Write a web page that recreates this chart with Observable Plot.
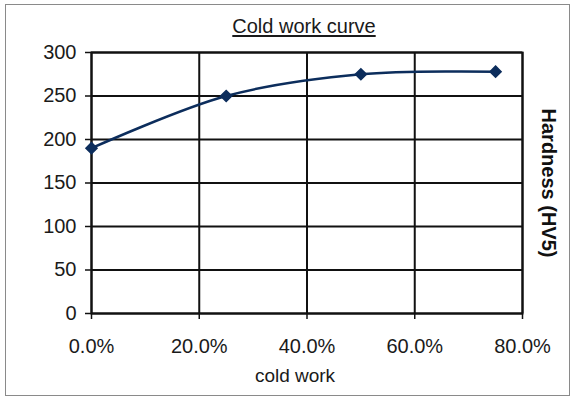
<!DOCTYPE html>
<html>
<head>
<meta charset="utf-8">
<script src="https://cdn.jsdelivr.net/npm/d3@7"></script>
<script src="https://cdn.jsdelivr.net/npm/@observablehq/plot@0.6"></script>
<style>
  body { margin: 0; background: #fff; }
  #wrap { position: relative; width: 576px; height: 400px; overflow: hidden; background: #fff; font-family: "Liberation Sans", Arial, sans-serif; }
  #border { position: absolute; left: 5px; top: 4px; width: 565px; height: 392px; border: 1.5px solid #8a8a8a; box-sizing: border-box; }
  #title { position: absolute; left: 0; width: 608px; top: 16px; text-align: center; font-size: 20px; line-height: 20px; color: #1a1a1a; text-decoration: underline; text-underline-offset: 2px; }
  #xlabel { position: absolute; left: 0; width: 590px; top: 366px; text-align: center; font-size: 19px; line-height: 19px; color: #1a1a1a; }
  #chart { position: absolute; left: 0; top: 0; }
</style>
</head>
<body>
<div id="wrap">
  <div id="border"></div>
  <div id="chart"></div>
  <div id="title"></div>
  <div id="xlabel"></div>
</div>
<script>
const titleText = "Cold work curve";
const xLabelText = "cold work";
const yLabelText = "Hardness (HV5)";
const coldWork = [0, 0.25, 0.50, 0.75];
const hardness = [190, 250, 275, 278];
const xTicks = [0, 0.2, 0.4, 0.6, 0.8];
const yTicks = [0, 50, 100, 150, 200, 250, 300];

const data = coldWork.map((x, i) => ({ x, y: hardness[i] }));
const fmt = d3.format(".1%");
const font = "'Liberation Sans', Arial, sans-serif";

document.getElementById("title").textContent = titleText;
document.getElementById("xlabel").textContent = xLabelText;

const chart = Plot.plot({
  width: 576,
  height: 400,
  marginLeft: 91,
  marginRight: 54,
  marginTop: 52,
  marginBottom: 87,
  style: { fontFamily: font, fontSize: "20px", color: "#1a1a1a", background: "transparent" },
  x: { domain: [0, 0.8] },
  y: { domain: [0, 300] },
  marks: [
    Plot.gridY(yTicks, { stroke: "#111", strokeOpacity: 1, strokeWidth: 2 }),
    Plot.gridX(xTicks, { stroke: "#111", strokeOpacity: 1, strokeWidth: 2 }),
    Plot.frame({ stroke: "#111", strokeWidth: 2 }),
    Plot.axisX(xTicks, { tickFormat: fmt, tickSize: 6, tickPadding: 19, label: null, fontSize: 20, fontFamily: font, stroke: "#111", strokeWidth: 1.5 }),
    Plot.axisY(yTicks, { tickSize: 6, tickPadding: 9, label: null, fontSize: 20, fontFamily: font, stroke: "#111", strokeWidth: 1.5 }),
    Plot.line(data, { x: "x", y: "y", curve: "catmull-rom", stroke: "#0c2d5c", strokeWidth: 2.5 }),
    Plot.dot(data, { x: "x", y: "y", symbol: "diamond2", r: 5, fill: "#0c2d5c", stroke: "#0c2d5c" }),
    Plot.text([yLabelText], { frameAnchor: "right", dx: 26, rotate: 90, textAnchor: "middle", lineAnchor: "middle", fontWeight: "bold", fontSize: 20, fontFamily: font, fill: "#111" })
  ]
});
document.getElementById("chart").appendChild(chart);
</script>
</body>
</html>
